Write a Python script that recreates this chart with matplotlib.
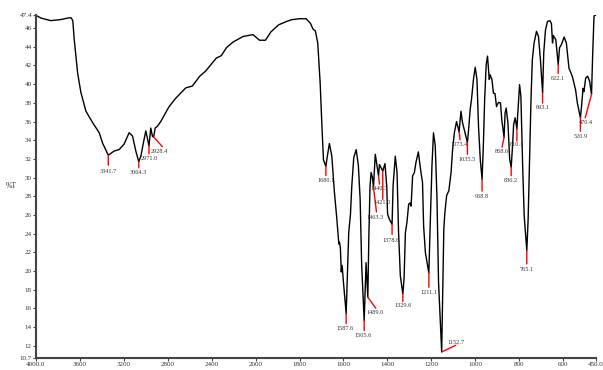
import numpy as np
import matplotlib
matplotlib.use('Agg')
import matplotlib.pyplot as plt

# spectrum: wavenumber (cm-1) and transmittance (%T)
wavenumber = [4000, 3950, 3864, 3780, 3697, 3680, 3665, 3652, 3621, 3591,
              3545, 3485, 3424, 3394, 3341.7, 3288, 3243, 3197, 3152, 3121,
              3091, 3064.3, 3045, 3024, 3000, 2971.0, 2955, 2939, 2928.4, 2915,
              2894, 2864, 2788, 2727, 2636, 2576, 2509, 2455, 2434, 2357,
              2312, 2266, 2206, 2115, 2024, 1997, 1982, 1955, 1930, 1895,
              1860, 1835, 1800, 1770, 1750, 1739, 1728, 1717, 1706, 1698,
              1691, 1680.1, 1674, 1664, 1653, 1641, 1630, 1621, 1618, 1614,
              1610, 1606, 1600, 1587.6, 1583, 1576, 1568, 1562, 1553, 1542,
              1532, 1524, 1517, 1505.6, 1501, 1497, 1489.0, 1484, 1479, 1474,
              1468, 1463.3, 1455, 1440.3, 1436, 1421.0, 1411, 1403, 1399, 1391,
              1378.6, 1374, 1364, 1356, 1349, 1341, 1329.6, 1324, 1318, 1311,
              1303, 1297, 1292, 1285, 1277, 1270, 1259, 1247, 1240, 1235,
              1227, 1211.1, 1206, 1197, 1190, 1182, 1174, 1167, 1152.7, 1148,
              1143, 1138, 1130, 1120, 1110, 1103, 1095, 1085, 1073.4, 1065,
              1058, 1035.5, 1030, 1023, 1017, 1008, 1000, 992, 985, 977,
              968.8, 963, 957, 950, 944, 936, 932, 924, 917, 910,
              903, 894, 885, 879, 868.6, 864, 859, 851, 843, 836.2,
              830, 825, 818, 810.1, 806, 798, 792, 784, 777, 765.1,
              759, 753, 746, 740, 732, 721, 712, 703, 693.1, 688,
              680, 671, 660, 653, 648, 644, 633, 622.1, 616, 608,
              595, 585, 573, 558, 543, 535, 520.9, 516, 509, 505,
              497, 488, 479, 470.4, 465, 459, 450]
transmittance = [47.35, 47.05, 46.8, 46.9, 47.1, 47.1, 46.8, 44.8, 41.2, 39.1,
                 37.1, 35.9, 34.8, 33.7, 32.4, 32.85, 33.0, 33.6, 34.8, 34.45,
                 32.85, 31.7, 32.3, 33.6, 35.0, 33.4, 35.3, 34.4, 34.35, 35.3,
                 35.5, 36.0, 37.6, 38.5, 39.6, 39.8, 40.85, 41.4, 41.7, 42.8,
                 43.05, 43.9, 44.5, 45.1, 45.3, 45.0, 44.7, 44.7, 45.6, 46.35,
                 46.7, 46.9, 47.0, 47.0, 46.5, 45.9, 45.7, 44.4, 40.1, 35.5,
                 31.9, 31.2, 32.2, 33.65, 32.3, 28.4, 25.55, 22.9, 23.1, 22.5,
                 19.9, 20.6, 18.8, 15.45, 18.8, 24.1, 26.1, 29.1, 32.15, 33.0,
                 31.25, 27.7, 20.6, 14.7, 18.1, 20.9, 17.2, 24.1, 29.1, 30.55,
                 30.0, 29.0, 32.5, 30.2, 31.4, 30.7, 31.5, 29.1, 26.1, 25.55,
                 25.0, 29.1, 32.3, 30.55, 24.1, 19.5, 17.55, 19.2, 24.1, 25.2,
                 27.15, 27.3, 26.95, 30.2, 30.55, 31.6, 32.75, 30.55, 29.5, 24.85,
                 22.0, 19.8, 24.1, 31.25, 34.8, 33.4, 27.7, 18.8, 11.35, 17.7,
                 24.5, 26.3, 28.1, 28.6, 30.55, 33.0, 34.8, 36.0, 34.9, 37.1,
                 35.9, 33.75, 35.15, 37.3, 38.35, 40.5, 41.8, 40.5, 35.5, 31.95,
                 29.8, 33.4, 38.35, 42.1, 43.0, 40.5, 41.0, 40.5, 39.05, 39.0,
                 37.6, 38.05, 38.0, 36.2, 34.3, 36.9, 37.45, 35.85, 31.95, 31.1,
                 33.4, 35.7, 36.4, 35.2, 36.9, 39.95, 38.7, 31.25, 25.9, 22.2,
                 25.55, 31.25, 38.35, 42.6, 44.4, 45.65, 45.1, 42.6, 39.05, 43.35,
                 45.8, 46.7, 46.8, 46.5, 44.4, 45.2, 44.75, 42.1, 43.9, 44.2,
                 45.05, 44.4, 41.7, 40.85, 39.4, 38.0, 36.4, 37.6, 39.55, 39.2,
                 40.65, 40.85, 40.3, 38.9, 43.3, 47.3, 47.4]

# labelled peaks
peaks = [3341.7, 3064.3, 2971.0, 2928.4, 1680.1, 1587.6, 1505.6, 1489.0,
         1463.3, 1440.3, 1421.0, 1378.6, 1329.6, 1211.1, 1152.7, 1073.4,
         1035.5, 968.8, 868.6, 836.2, 810.1, 765.1, 693.1, 622.1, 520.9, 470.4]

x_ticks = [4000, 3600, 3200, 2800, 2400, 2000, 1800, 1600, 1400, 1200, 1000, 800, 600, 450]
x_ticklabels = ['4000.0', '3600', '3200', '2800', '2400', '2000', '1800', '1600',
                '1400', '1200', '1000', '800', '600', '450.0']
y_ticks = [10.7] + list(range(12, 47, 2)) + [47.4]
y_ticklabels = ['10.7'] + [str(v) for v in range(12, 47, 2)] + ['47.4']

# (line end, label centre) offsets in pixels from each peak
offsets = [((0, -10), (0, -16)), ((0, -6), (0, -11)), ((0, -8), (0, -13)),
           ((8.7, -9.7), (5.3, -15)), ((0, -9), (0, -14)), ((0, -10), (-1, -15)),
           ((0, -10), (-1, -15)), ((8, -11), (7, -15)), ((3, -25), (2, -31)),
           ((1, -8.3), (0.7, -12.3)), ((0, -28.3), (-0.6, -31.6)), ((0, -10), (-0.7, -15.7)),
           ((0, -7.7), (0, -11.7)), ((0, -14.3), (0, -19.3)), ((14, 6.6), (14.3, 9.3)),
           ((1, -8), (0, -12.3)), ((0, -11.7), (0, -16.7)), ((0, -11.7), (0, -17)),
           ((-2, -9.7), (-2.3, -14)), ((0, -8.4), (0, -13.4)), ((0, -12), (0, -15)),
           ((0, -13.3), (0, -19)), ((0, -10), (0, -14.4)), ((0, -9), (0, -14)),
           ((0, -13.4), (0, -19)), ((-6.3, -23.3), (-5.3, -27.7))]


# above 2000 cm-1 the axis is compressed by half
def forward(x):
    x = np.asarray(x, dtype=float)
    return np.where(x > 2000, 2000 + (x - 2000) / 2.0, x)


def inverse(x):
    x = np.asarray(x, dtype=float)
    return np.where(x > 2000, 2000 + (x - 2000) * 2.0, x)


plt.rcParams['font.family'] = ['Liberation Serif', 'DejaVu Serif']

fig = plt.figure(figsize=(6.03, 3.70), dpi=100)
ax = fig.add_axes([36 / 603, 12 / 370, 560 / 603, 343 / 370])

ax.plot(wavenumber, transmittance, color='black', lw=1.0)

ax.set_xscale('function', functions=(forward, inverse))
ax.set_xlim(4000, 450)
ax.set_ylim(10.7, 47.4)

wn_inc = np.array(wavenumber)[::-1]
t_inc = np.array(transmittance)[::-1]
for p, (line_end, text_pos) in zip(peaks, offsets):
    t = np.interp(p, wn_inc, t_inc)
    ax.annotate('', xy=(p, t), xytext=line_end, textcoords='offset pixels',
                arrowprops=dict(arrowstyle='-', color='red', lw=1.0,
                                shrinkA=0, shrinkB=0))
    ax.annotate('%.1f' % p, xy=(p, t), xytext=text_pos, textcoords='offset pixels',
                ha='center', va='center', fontsize=4.5, color='#333333')

ax.set_xticks(x_ticks)
ax.set_xticklabels(x_ticklabels)
ax.set_yticks(y_ticks)
ax.set_yticklabels(y_ticklabels)
ax.minorticks_off()
ax.tick_params(axis='both', direction='out', length=2, width=0.8,
               labelsize=5, labelcolor='#333333', color='#444444', pad=1)

ax.set_ylabel('%T', rotation=0, fontsize=5.5, color='#333333', labelpad=6, va='center')

for side in ['top', 'right']:
    ax.spines[side].set_visible(False)
for side in ['left', 'bottom']:
    ax.spines[side].set_color('#444444')
    ax.spines[side].set_linewidth(1.5)

fig.savefig('out.png', dpi=100)
